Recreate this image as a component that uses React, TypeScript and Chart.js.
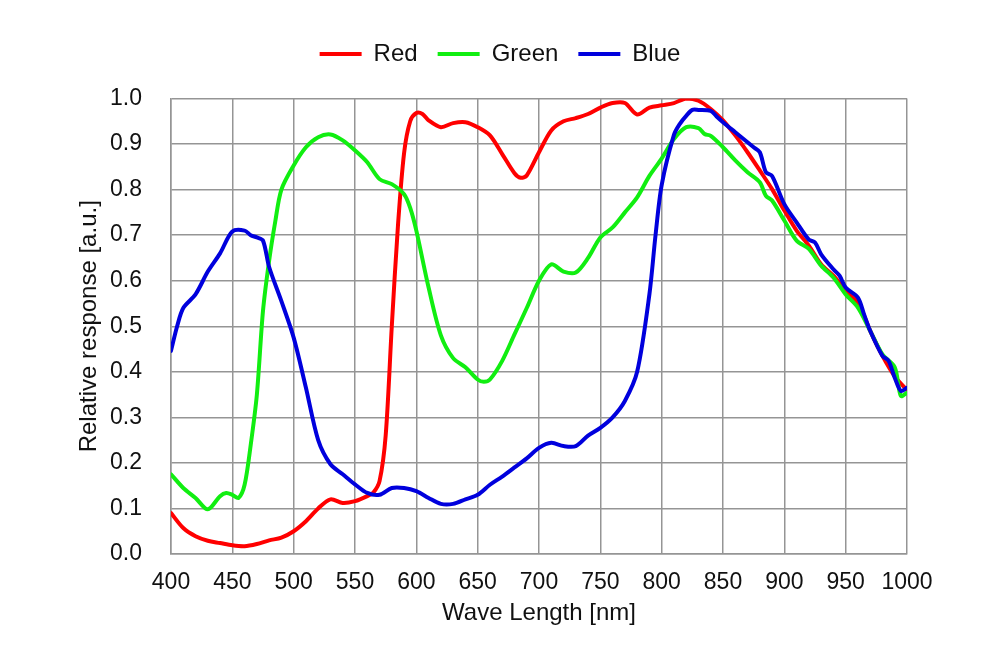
import React, { useEffect, useRef } from 'react';
import { Chart, registerables } from 'chart.js';

Chart.register(...registerables);

// wavelengths [nm] and relative response
const redNm = [400, 410, 420, 430, 440, 450, 460, 470, 480, 490, 500, 510, 520, 530, 540, 550, 560, 565, 570, 575, 580, 585, 590, 595, 600, 605, 610, 620, 630, 640, 650, 660, 670, 680, 685, 690, 700, 710, 720, 730, 740, 750, 760, 770, 780, 790, 800, 810, 820, 830, 840, 850, 860, 870, 880, 890, 900, 910, 920, 930, 940, 950, 960, 970, 980, 990, 1000];
const redValues = [0.09, 0.057, 0.039, 0.029, 0.024, 0.019, 0.017, 0.022, 0.03, 0.036, 0.05, 0.072, 0.1, 0.12, 0.112, 0.116, 0.127, 0.135, 0.16, 0.26, 0.5, 0.72, 0.88, 0.95, 0.968, 0.966, 0.952, 0.937, 0.946, 0.948, 0.937, 0.919, 0.878, 0.836, 0.826, 0.831, 0.882, 0.93, 0.95, 0.957, 0.966, 0.98, 0.99, 0.99, 0.965, 0.98, 0.985, 0.99, 1.0, 0.995, 0.977, 0.952, 0.919, 0.882, 0.842, 0.801, 0.754, 0.71, 0.677, 0.636, 0.611, 0.578, 0.552, 0.49, 0.435, 0.39, 0.36];

const greenNm = [400, 410, 420, 430, 440, 445, 450, 455, 460, 465, 470, 475, 480, 485, 490, 500, 510, 520, 530, 540, 550, 560, 570, 580, 590, 595, 600, 610, 620, 630, 640, 650, 655, 660, 670, 680, 690, 700, 710, 720, 730, 740, 750, 760, 770, 780, 790, 800, 810, 820, 830, 835, 840, 850, 860, 870, 880, 885, 890, 900, 910, 920, 930, 940, 950, 960, 970, 980, 990, 995, 1000];
const greenValues = [0.175, 0.145, 0.123, 0.098, 0.127, 0.134, 0.13, 0.123, 0.152, 0.24, 0.35, 0.534, 0.644, 0.73, 0.8, 0.853, 0.893, 0.915, 0.921, 0.908, 0.886, 0.86, 0.823, 0.812, 0.79, 0.76, 0.71, 0.585, 0.48, 0.43, 0.41, 0.383, 0.378, 0.383, 0.424, 0.482, 0.54, 0.6, 0.636, 0.62, 0.618, 0.65, 0.695, 0.717, 0.75, 0.783, 0.83, 0.868, 0.911, 0.937, 0.935, 0.922, 0.918, 0.893, 0.864, 0.838, 0.816, 0.786, 0.776, 0.732, 0.688, 0.67, 0.633, 0.607, 0.57, 0.541, 0.49, 0.438, 0.41, 0.347, 0.354];

const blueNm = [400, 405, 410, 420, 430, 440, 450, 460, 465, 470, 475, 480, 490, 500, 510, 520, 530, 540, 550, 560, 570, 580, 590, 600, 610, 620, 630, 640, 650, 660, 670, 680, 690, 700, 710, 720, 730, 740, 750, 760, 770, 780, 790, 795, 800, 810, 815, 820, 825, 830, 840, 845, 850, 860, 870, 875, 880, 885, 890, 900, 910, 920, 925, 930, 940, 945, 950, 960, 965, 970, 980, 985, 990, 995, 1000];
const blueValues = [0.446, 0.5, 0.54, 0.57, 0.62, 0.66, 0.708, 0.71, 0.7, 0.695, 0.688, 0.63, 0.555, 0.475, 0.365, 0.25, 0.197, 0.175, 0.153, 0.134, 0.13, 0.145, 0.145, 0.138, 0.123, 0.11, 0.11, 0.12, 0.13, 0.152, 0.17, 0.19, 0.21, 0.233, 0.244, 0.237, 0.237, 0.26, 0.277, 0.3, 0.336, 0.4, 0.57, 0.7, 0.81, 0.92, 0.945, 0.962, 0.975, 0.975, 0.973, 0.96, 0.948, 0.926, 0.904, 0.893, 0.882, 0.838, 0.83, 0.768, 0.728, 0.69, 0.684, 0.658, 0.625, 0.611, 0.585, 0.563, 0.526, 0.49, 0.435, 0.424, 0.387, 0.358, 0.365];

const seriesLabels = ['Red', 'Green', 'Blue'];

const FONT = '"Liberation Sans", Arial, sans-serif';
const GRID = '#959595';
const TEXT = '#111';

const toPoints = (xs: number[], ys: number[]) => xs.map((x, i) => ({ x, y: ys[i] }));

// pushes the plot area down below the legend
const legendSpacer = {
  id: 'legendSpacer',
  beforeInit(chart: any) {
    const legend = chart.legend;
    if (!legend) return;
    const fit = legend.fit;
    legend.fit = function () {
      fit.call(this);
      this.height += 22.5;
    };
  },
};

export default function App() {
  const canvasRef = useRef<HTMLCanvasElement | null>(null);
  const chartRef = useRef<Chart | null>(null);

  useEffect(() => {
    if (!canvasRef.current) return;
    if (chartRef.current) chartRef.current.destroy();

    const line = (label: string, xs: number[], ys: number[], color: string, order: number) => ({
      label,
      data: toPoints(xs, ys),
      borderColor: color,
      backgroundColor: color,
      borderWidth: 4,
      borderCapStyle: 'round' as const,
      borderJoinStyle: 'round' as const,
      pointRadius: 0,
      pointStyle: 'line' as const,
      tension: 0.3,
      order,
    });

    chartRef.current = new Chart(canvasRef.current, {
      type: 'line',
      data: {
        datasets: [
          line(seriesLabels[0], redNm, redValues, '#ff0000', 2),
          line(seriesLabels[1], greenNm, greenValues, '#11ee11', 1),
          line(seriesLabels[2], blueNm, blueValues, '#0000dd', 0),
        ],
      },
      options: {
        responsive: false,
        animation: false,
        layout: { padding: { left: 0, right: 0, top: 22, bottom: 30.2 } },
        plugins: {
          legend: {
            position: 'top',
            labels: {
              usePointStyle: true,
              pointStyleWidth: 42,
              padding: 20,
              color: TEXT,
              font: { family: FONT, size: 24 },
              sort: (a: any, b: any) => a.datasetIndex - b.datasetIndex,
            },
          },
          tooltip: { enabled: false },
        },
        scales: {
          x: {
            type: 'linear',
            min: 400,
            max: 1000,
            afterFit: (s: any) => { s.height = 73.8; },
            grid: { color: GRID, lineWidth: 1.5, drawTicks: false },
            border: { color: GRID, width: 1.5 },
            ticks: {
              stepSize: 50,
              autoSkip: false,
              maxRotation: 0,
              padding: 15,
              color: TEXT,
              font: { family: FONT, size: 23 },
              callback: (v: any) => String(v),
            },
            title: {
              display: true,
              text: 'Wave Length [nm]',
              color: TEXT,
              font: { family: FONT, size: 24 },
              padding: { top: 0, bottom: 0 },
            },
          },
          y: {
            type: 'linear',
            min: 0,
            max: 1,
            afterFit: (s: any) => { s.width = 171; },
            grid: { color: GRID, lineWidth: 1.5, drawTicks: false },
            border: { color: GRID, width: 1.5 },
            ticks: {
              stepSize: 0.1,
              padding: 29,
              color: TEXT,
              font: { family: FONT, size: 23 },
              callback: (v: any) => Number(v).toFixed(1),
            },
            title: {
              display: true,
              text: 'Relative response [a.u.]',
              color: TEXT,
              font: { family: FONT, size: 24 },
              padding: { top: 75, bottom: 0 },
            },
          },
          // empty right-hand box so the plot ends at the same place as the reference
          yRight: {
            type: 'linear',
            position: 'right',
            afterFit: (s: any) => { s.width = 93; },
            grid: { display: false, drawTicks: false },
            border: { display: false },
            ticks: { display: false },
          },
        },
      },
      plugins: [legendSpacer],
    });

    return () => {
      if (chartRef.current) {
        chartRef.current.destroy();
        chartRef.current = null;
      }
    };
  }, []);

  return (
    <div style={{ position: 'absolute', left: 0, top: 0, width: 1000, height: 658, background: '#fff' }}>
      <canvas ref={canvasRef} width={1000} height={658} />
    </div>
  );
}
